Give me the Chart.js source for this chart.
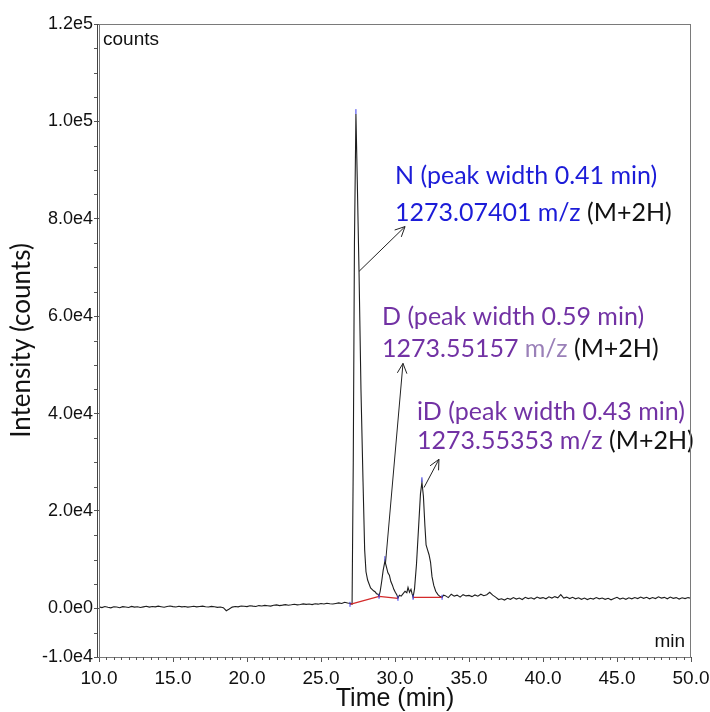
<!DOCTYPE html>
<html>
<head>
<meta charset="utf-8">
<script src="https://cdn.jsdelivr.net/npm/chart.js@4.4.1/dist/chart.umd.min.js"></script>
<style>
  html, body { margin: 0; padding: 0; background: #fff; }
  #wrap { width: 710px; height: 712px; position: relative; }
</style>
</head>
<body>
<div id="wrap"><canvas id="chromChart"></canvas></div>
<script>
// baseline before the peaks, sampled every 0.2 min from 10.0 min
const preStart = 10.0;
const preStep = 0.2;
const preCounts = [
    300, 150, 380, 220, 90, 310, 260, 120, 340, 280,
    180, 400, 250, 330, 170, 290, 420, 240, 360, 300,
    450, 330, 220, 380, 460, 350, 280, 410, 300, 370,
    240, 330, 420, 290, 380, 450, 310, 260, 390, 330,
    200, 280, 120, -500, -150, 250, 380, 300, 470, 420,
    350, 520, 440, 380, 560, 480, 600, 520, 450, 620,
    700, 560, 650, 760, 640, 720, 830, 700, 780, 900,
    810, 880, 760, 920, 850, 980, 900, 1050, 950, 880,
    1000, 1120, 980, 1250, 1100
];

// peak region (N, D, iD)
const peakTimes = [
    27.0, 27.1, 27.18, 27.26, 27.36, 27.45, 27.57, 27.7, 27.84, 27.95,
    28.04, 28.15, 28.25, 28.35, 28.45, 28.55, 28.65, 28.75, 28.85, 28.92,
    29.0, 29.1, 29.2, 29.32, 29.42, 29.52, 29.62, 29.72, 29.82, 29.92,
    30.02, 30.12, 30.2, 30.3, 30.42, 30.55, 30.68, 30.8, 30.88, 30.98,
    31.08, 31.15, 31.22, 31.32, 31.45, 31.6, 31.72, 31.82, 31.92, 32.02,
    32.1, 32.2, 32.3, 32.4, 32.5, 32.62, 32.75, 32.9, 33.05, 33.18, 33.28
];
const peakCounts = [
    1000, 850, 30000, 75000, 101500, 88000, 69000, 45000, 26000, 12000,
    7500, 5800, 5000, 4200, 3900, 3600, 3400, 3000, 2900, 2500,
    3500, 5500, 7800, 9700, 8500, 7300, 6800, 5500, 4800, 3900,
    3300, 2800, 2100, 2700, 2500, 3000, 3500, 3200, 4300, 3300,
    3900, 3000, 2300, 4000, 9000, 17000, 23500, 25900, 23000, 17000,
    13000, 12000, 11000, 9500, 6500, 4700, 3500, 2800, 2400, 2250, 2700
];

// baseline after the peaks, every 0.2 min from 33.4 min
const postStart = 33.4;
const postStep = 0.2;
const postCounts = [
    2600, 2200, 2900, 2500, 2700, 2300, 2800, 2550, 2650, 2400,
    2750, 2500, 2900, 2600, 2800, 3300, 2700, 2300, 1800, 1950,
    1700, 2050, 1850, 2200, 1900, 2100, 1800, 2250, 2000, 2150,
    1900, 2300, 2050, 2200, 1950, 2350, 2100, 2400, 2150, 2800,
    2100, 2300, 2000, 2250, 1950, 2150, 1850, 2100, 1800, 2050,
    1900, 2200, 1950, 2100, 1850, 2050, 1750, 2000, 2250, 1900,
    2100, 1850, 2150, 1950, 2200, 2000, 2300, 2050, 2250, 1950,
    2200, 2000, 2350, 2100, 2250, 1950, 2300, 2050, 2200, 1900,
    2150, 2000, 2200, 2050
];

// integration baselines (red) and peak markers (blue)
const baseTimes = [26.96, 28.92, 30.2, null, 31.22, 33.18];
const baseCounts = [820, 2460, 2050, null, 2260, 2260];
const markTimes = [26.96, 28.92, 30.2, 31.22, 33.18, 27.36, 29.32, 31.82];
const markCounts = [820, 2460, 2050, 2260, 2260, 102000, 10200, 26400];

const xTicks = [10, 15, 20, 25, 30, 35, 40, 45, 50];
const yTicks = [-10000, 0, 20000, 40000, 60000, 80000, 100000, 120000];

const BLUE = '#1c1cd8';
const PURPLE = '#7232a4';
const PURPLE_LIGHT = '#9a80b8';
const TICK_FONT = "'Liberation Sans', Arial, sans-serif";
const NOTE_FONT = "Lato, 'Open Sans', sans-serif";

// annotations: arrow from -> to and two lines of text, all in data units
const notes = [
    { from: [27.57, 69200], to: [30.68, 78400], at: [30.0, 88700, 81300],
      line1: [['N (peak width 0.41 min)', BLUE]],
      line2: [['1273.07401 m/z ', BLUE], ['(M+2H)', '#111']] },
    { from: [29.36, 9300], to: [30.54, 50300], at: [29.12, 59750, 53200],
      line1: [['D (peak width 0.59 min)', PURPLE]],
      line2: [['1273.55157 ', PURPLE], ['m/z ', PURPLE_LIGHT], ['(M+2H)', '#111']] },
    { from: [31.96, 24800], to: [32.97, 30600], at: [31.49, 40250, 34300],
      line1: [['iD (peak width 0.43 min)', PURPLE]],
      line2: [['1273.55353 m/z ', PURPLE], ['(M+2H)', '#111']] }
];

function buildTrace() {
    const pts = [];
    preCounts.forEach((c, i) => pts.push({ x: +(preStart + i * preStep).toFixed(2), y: c }));
    peakTimes.forEach((t, i) => pts.push({ x: t, y: peakCounts[i] }));
    postCounts.forEach((c, i) => pts.push({ x: +(postStart + i * postStep).toFixed(2), y: c }));
    return pts;
}

const framePlugin = {
    id: 'frame',
    afterDraw(chart) {
        const { ctx, chartArea: a, scales } = chart;
        ctx.save();
        ctx.strokeStyle = '#7a7a7a';
        ctx.lineWidth = 1;
        ctx.strokeRect(a.left + 0.5, a.top + 0.5, a.right - a.left - 1, a.bottom - a.top);
        ctx.strokeStyle = '#444';
        ctx.beginPath();
        ctx.moveTo(a.left - 1.5, a.top); ctx.lineTo(a.left - 1.5, a.bottom);
        ctx.stroke();

        // minor ticks
        ctx.strokeStyle = '#555';
        ctx.beginPath();
        for (let v = 10; v <= 50.001; v += 0.5) {
            if (Math.abs(v / 5 - Math.round(v / 5)) < 1e-6) continue;
            const px = Math.round(scales.x.getPixelForValue(v)) + 0.5;
            ctx.moveTo(px, a.bottom); ctx.lineTo(px, a.bottom + 3);
        }
        for (let v = -10000; v <= 120000; v += 5000) {
            if (yTicks.includes(v)) continue;
            const py = Math.round(scales.y.getPixelForValue(v)) + 0.5;
            ctx.moveTo(a.left - 2, py); ctx.lineTo(a.left - 5, py);
        }
        ctx.stroke();

        // corner labels
        ctx.fillStyle = '#111';
        ctx.font = `19px ${TICK_FONT}`;
        ctx.textBaseline = 'middle';
        ctx.textAlign = 'left';
        ctx.fillText('counts', a.left + 4, a.top + 16);
        ctx.textAlign = 'right';
        ctx.fillText('min', a.right - 6, a.bottom - 15);
        ctx.restore();
    }
};

const notePlugin = {
    id: 'notes',
    afterDatasetsDraw(chart) {
        const { ctx, scales: { x, y } } = chart;
        ctx.save();
        notes.forEach(n => {
            const x1 = x.getPixelForValue(n.from[0]), y1 = y.getPixelForValue(n.from[1]);
            const x2 = x.getPixelForValue(n.to[0]), y2 = y.getPixelForValue(n.to[1]);
            ctx.strokeStyle = '#222';
            ctx.lineWidth = 1;
            ctx.beginPath();
            ctx.moveTo(x1, y1); ctx.lineTo(x2, y2);
            const ang = Math.atan2(y2 - y1, x2 - x1);
            ctx.moveTo(x2, y2);
            ctx.lineTo(x2 - 11 * Math.cos(ang - 0.45), y2 - 11 * Math.sin(ang - 0.45));
            ctx.moveTo(x2, y2);
            ctx.lineTo(x2 - 11 * Math.cos(ang + 0.45), y2 - 11 * Math.sin(ang + 0.45));
            ctx.stroke();

            ctx.font = `25px ${NOTE_FONT}`;
            ctx.textBaseline = 'middle';
            ctx.textAlign = 'left';
            const tx = x.getPixelForValue(n.at[0]);
            [[n.line1, n.at[1]], [n.line2, n.at[2]]].forEach(([segs, v]) => {
                let cx = tx;
                const cy = y.getPixelForValue(v);
                segs.forEach(([txt, col]) => {
                    ctx.fillStyle = col;
                    ctx.fillText(txt, cx, cy);
                    cx += ctx.measureText(txt).width;
                });
            });
        });
        ctx.restore();
    }
};

const ctx = document.getElementById('chromChart').getContext('2d');
new Chart(ctx, {
    type: 'line',
    data: {
        datasets: [
            {
                data: buildTrace(),
                borderColor: '#1e1e1e',
                borderWidth: 1.1,
                pointRadius: 0,
                tension: 0,
                order: 2
            },
            {
                data: baseTimes.map((t, i) => ({ x: t, y: baseCounts[i] })),
                borderColor: '#d42a2a',
                borderWidth: 1.3,
                pointRadius: 0,
                spanGaps: false,
                order: 1
            },
            {
                data: markTimes.map((t, i) => ({ x: t, y: markCounts[i] })),
                showLine: false,
                pointStyle: 'line',
                rotation: 90,
                pointRadius: 2.5,
                borderColor: '#3a3af0',
                borderWidth: 1,
                order: 0
            }
        ]
    },
    options: {
        responsive: true,
        maintainAspectRatio: false,
        animation: false,
        layout: { padding: { left: 0, top: 24, right: 19, bottom: 0 } },
        plugins: { legend: { display: false }, tooltip: { enabled: false } },
        scales: {
            x: {
                type: 'linear',
                min: 10,
                max: 50,
                afterBuildTicks: s => { s.ticks = xTicks.map(v => ({ value: v })); },
                afterFit: s => { s.height = 55; s.paddingLeft = 0; s.paddingRight = 0; },
                grid: { drawOnChartArea: false, drawTicks: true, tickLength: 5, color: '#555' },
                border: { color: '#444', width: 1 },
                ticks: {
                    padding: 5,
                    maxRotation: 0,
                    color: '#111',
                    font: { family: TICK_FONT, size: 19 },
                    callback: v => v.toFixed(1)
                },
                title: {
                    display: true,
                    text: 'Time (min)',
                    color: '#111',
                    font: { family: TICK_FONT, size: 25, lineHeight: 1 },
                    padding: 0
                }
            },
            y: {
                min: -10000,
                max: 120000,
                afterBuildTicks: s => { s.ticks = yTicks.map(v => ({ value: v })); },
                afterFit: s => { s.width = 99; s.paddingTop = 0; s.paddingBottom = 0; },
                grid: { drawOnChartArea: false, drawTicks: true, tickLength: 5, color: '#555' },
                border: { color: '#444', width: 1 },
                ticks: {
                    padding: 1,
                    color: '#111',
                    font: { family: TICK_FONT, size: 18 },
                    callback: v => v.toExponential(1).replace('+', '')
                },
                title: {
                    display: true,
                    text: 'Intensity (counts)',
                    color: '#111',
                    font: { family: NOTE_FONT, size: 26, lineHeight: 1 },
                    padding: { top: 9, bottom: 0 }
                }
            }
        }
    },
    plugins: [framePlugin, notePlugin]
});
</script>
</body>
</html>
